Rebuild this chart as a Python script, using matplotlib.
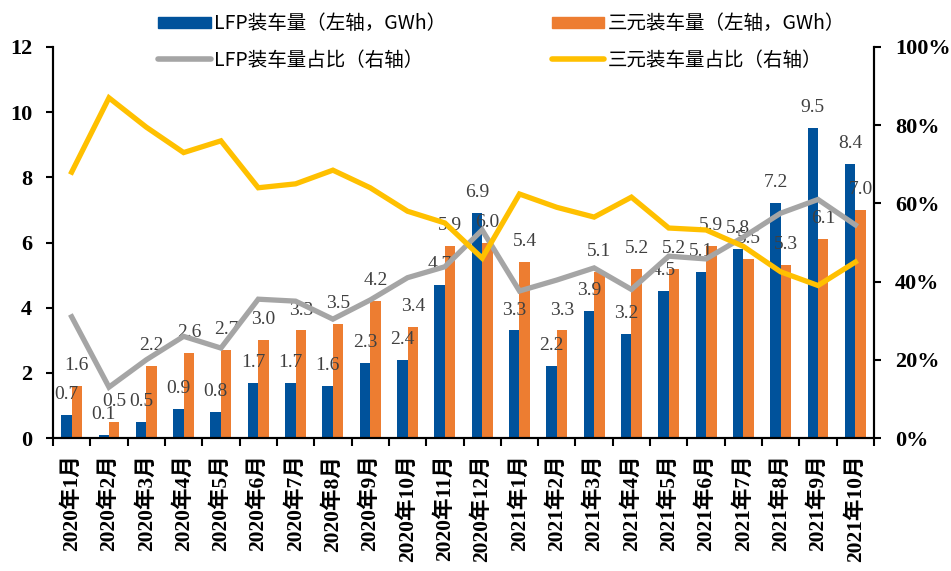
import matplotlib
matplotlib.use("Agg")
import matplotlib.pyplot as plt
from matplotlib.patches import Patch
from matplotlib.lines import Line2D
from matplotlib.ticker import FuncFormatter, FixedLocator
import numpy as np

months = ["2020年1月", "2020年2月", "2020年3月", "2020年4月", "2020年5月", "2020年6月",
          "2020年7月", "2020年8月", "2020年9月", "2020年10月", "2020年11月", "2020年12月",
          "2021年1月", "2021年2月", "2021年3月", "2021年4月", "2021年5月", "2021年6月",
          "2021年7月", "2021年8月", "2021年9月", "2021年10月"]
lfp = [0.7, 0.1, 0.5, 0.9, 0.8, 1.7, 1.7, 1.6, 2.3, 2.4, 4.7, 6.9,
       3.3, 2.2, 3.9, 3.2, 4.5, 5.1, 5.8, 7.2, 9.5, 8.4]
ternary = [1.6, 0.5, 2.2, 2.6, 2.7, 3.0, 3.3, 3.5, 4.2, 3.4, 5.9, 6.0,
           5.4, 3.3, 5.1, 5.2, 5.2, 5.9, 5.5, 5.3, 6.1, 7.0]
lfp_share = [31, 13, 20, 26, 23, 35.5, 35, 30.4, 35.3, 41, 43.8, 53.2,
             37.6, 40.4, 43.5, 38, 46.5, 45.8, 51.4, 57.5, 61, 54.5]
ternary_share = [68, 87, 79.5, 73, 76, 64, 65, 68.5, 64, 58, 55, 46,
                 62.4, 59, 56.5, 61.6, 53.7, 53.2, 49, 42.5, 39, 45]

C_BLUE = "#00529B"
C_ORANGE = "#ED7D31"
C_GREY = "#A5A5A5"
C_YELLOW = "#FFC000"
SERIF = "Liberation Serif"

fig = plt.figure(figsize=(9.51, 5.71), dpi=100)
ax = fig.add_axes([53/951, 1-438/571, (874-53)/951, (438-47)/571])
ax2 = ax.twinx()

x = np.arange(len(months))
w = 0.28
ax.bar(x - w/2, lfp, width=w, color=C_BLUE, zorder=2)
ax.bar(x + w/2, ternary, width=w, color=C_ORANGE, zorder=2)

for xi, v in zip(x, lfp):
    ax.annotate(f"{v:.1f}", (xi - w/2, v), xytext=(0, 11.5), textcoords="offset points",
                ha="center", va="baseline", fontsize=14, color="#404040",
                family=SERIF, zorder=3)
for xi, v in zip(x, ternary):
    ax.annotate(f"{v:.1f}", (xi + w/2, v), xytext=(0, 11.5), textcoords="offset points",
                ha="center", va="baseline", fontsize=14, color="#404040",
                family=SERIF, zorder=3)

ax2.plot(x, np.array(lfp_share)/100, color=C_GREY, lw=3.8, solid_joinstyle="miter", zorder=4)
ax2.plot(x, np.array(ternary_share)/100, color=C_YELLOW, lw=3.8, solid_joinstyle="miter", zorder=4)

ax.set_xlim(-0.5, len(months) - 0.5)
ax.set_ylim(0, 12)
ax2.set_ylim(0, 1)
ax.set_yticks(np.arange(0, 13, 2))
ax2.set_yticks(np.arange(0, 1.01, 0.2))
ax2.yaxis.set_major_formatter(FuncFormatter(lambda v, p: f"{v*100:.0f}%"))

for a in (ax, ax2):
    a.spines["top"].set_visible(False)
    for s in a.spines.values():
        s.set_linewidth(1.5)
        s.set_color("black")

ax.set_xticks(x)
ax.set_xticklabels(months, rotation=90, fontsize=15.5, fontweight="bold",
                   family=[SERIF, "Noto Sans CJK SC"], va="top")
ax.tick_params(axis="x", which="major", length=0, pad=12)
ax.xaxis.set_minor_locator(FixedLocator(np.arange(-0.5, len(months), 1.0)))
ax.tick_params(axis="x", which="minor", length=6, width=1.5, direction="out")

ax.tick_params(axis="y", length=5, width=1.5, direction="out", pad=10)
ax2.tick_params(axis="y", length=5, width=1.5, direction="out", pad=10)
for lab in ax.get_yticklabels() + ax2.get_yticklabels():
    lab.set_family(SERIF)
    lab.set_fontweight("bold")
    lab.set_fontsize(16)

handles = [Patch(color=C_BLUE), Line2D([], [], color=C_GREY, lw=4, solid_capstyle="round"),
           Patch(color=C_ORANGE), Line2D([], [], color=C_YELLOW, lw=4, solid_capstyle="round")]
labels = ["LFP装车量（左轴，GWh）", "LFP装车量占比（右轴）",
          "三元装车量（左轴，GWh）", "三元装车量占比（右轴）"]
fig.legend(handles, labels, loc="upper left", bbox_to_anchor=(158/951, 1 - 13/571),
           ncol=2, frameon=False, borderpad=0, borderaxespad=0,
           handlelength=2.7, handleheight=0.5, handletextpad=0.2,
           columnspacing=5.4, labelspacing=0.8,
           prop={"family": ["Noto Sans CJK SC", "DejaVu Sans"], "size": 14})

fig.savefig("out.png", dpi=100)
